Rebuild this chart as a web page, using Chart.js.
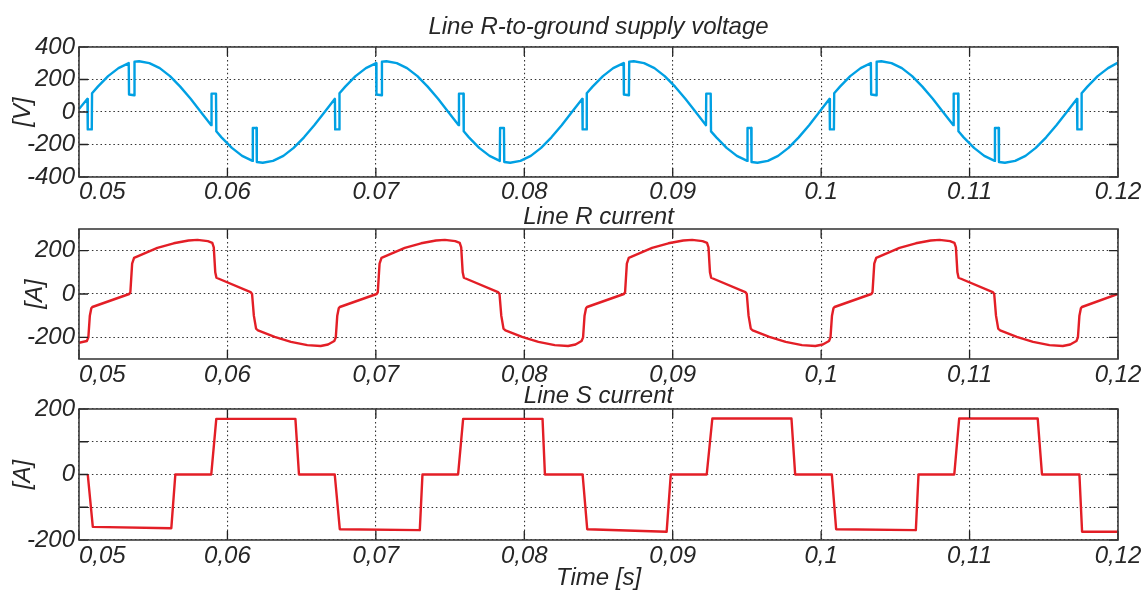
<!DOCTYPE html>
<html>
<head>
<meta charset="utf-8">
<script src="https://cdn.jsdelivr.net/npm/chart.js@4.4.1/dist/chart.umd.min.js"></script>
<style>
  body { margin: 0; background: #fff; width: 1142px; height: 590px; position: relative; overflow: hidden; }
  canvas { position: absolute; left: 0; }
</style>
</head>
<body>
<canvas id="voltChart" width="1142" height="205" style="top:0px"></canvas>
<canvas id="rChart" width="1142" height="190" style="top:200px"></canvas>
<canvas id="sChart" width="1142" height="210" style="top:380px"></canvas>
<script>
// axis ticks
const timeTicks = [0.05, 0.06, 0.07, 0.08, 0.09, 0.1, 0.11, 0.12];
const voltTicks = [-400, -200, 0, 200, 400];
const rTicks = [-200, 0, 200];
const sTicks = [-200, -100, 0, 100, 200];
const sTickLabels = ['-200', '', '0', '', '200'];

// Line R-to-ground supply voltage [V]
const voltTime = [
  0.05, 0.05057, 0.05059, 0.05086, 0.05088, 0.05127, 0.05196, 0.05266, 0.05335, 0.05337, 0.05372, 0.05374,
  0.05405, 0.05474, 0.05544, 0.05613, 0.05682, 0.05752, 0.05821, 0.05891, 0.05893, 0.05923, 0.05925, 0.0596,
  0.0603, 0.06099, 0.06169, 0.06171, 0.06196, 0.06198, 0.06238, 0.06307, 0.06377, 0.06446, 0.06516, 0.06585,
  0.06655, 0.06724, 0.06726, 0.06753, 0.06755, 0.06794, 0.06863, 0.06933, 0.07002, 0.07004, 0.07039, 0.07041,
  0.07071, 0.07141, 0.0721, 0.0728, 0.07349, 0.07419, 0.07488, 0.07558, 0.0756, 0.0759, 0.07592, 0.07627,
  0.07696, 0.07766, 0.07835, 0.07837, 0.07863, 0.07865, 0.07905, 0.07974, 0.08044, 0.08113, 0.08183, 0.08252,
  0.08321, 0.08391, 0.08393, 0.08419, 0.08421, 0.0846, 0.0853, 0.08599, 0.08669, 0.08671, 0.08705, 0.08707,
  0.08738, 0.08807, 0.08877, 0.08946, 0.09016, 0.09085, 0.09155, 0.09224, 0.09226, 0.09256, 0.09258, 0.09294,
  0.09363, 0.09432, 0.09502, 0.09504, 0.09529, 0.09531, 0.09571, 0.09641, 0.0971, 0.0978, 0.09849, 0.09919,
  0.09988, 0.10057, 0.10059, 0.10086, 0.10088, 0.10127, 0.10196, 0.10266, 0.10335, 0.10337, 0.10372, 0.10374,
  0.10405, 0.10474, 0.10544, 0.10613, 0.10682, 0.10752, 0.10821, 0.10891, 0.10893, 0.10923, 0.10925, 0.1096,
  0.1103, 0.11099, 0.11169, 0.11171, 0.11196, 0.11198, 0.11238, 0.11307, 0.11377, 0.11446, 0.11516, 0.11585,
  0.11655, 0.11724, 0.11726, 0.11753, 0.11755, 0.11794, 0.11863, 0.11933, 0.12
];
const voltValue = [
  18, 81, -107, -107, 115, 156, 221, 270, 301, 108, 103, 310,
  312, 301, 270, 221, 156, 81, 0, -81, 113, 113, -119, -156,
  -221, -270, -301, -98, -98, -308, -312, -301, -270, -221, -156, -81,
  0, 81, -107, -107, 115, 156, 221, 270, 301, 108, 103, 310,
  312, 301, 270, 221, 156, 81, 0, -81, 113, 113, -119, -156,
  -221, -270, -301, -98, -98, -308, -312, -301, -270, -221, -156, -81,
  0, 81, -107, -107, 115, 156, 221, 270, 301, 108, 103, 310,
  312, 301, 270, 221, 156, 81, 0, -81, 113, 113, -119, -156,
  -221, -270, -301, -98, -98, -308, -312, -301, -270, -221, -156, -81,
  0, 81, -107, -107, 115, 156, 221, 270, 301, 108, 103, 310,
  312, 301, 270, 221, 156, 81, 0, -81, 113, 113, -119, -156,
  -221, -270, -301, -98, -98, -308, -312, -301, -270, -221, -156, -81,
  0, 81, -107, -107, 115, 156, 221, 270, 304
];

// Line R current [A]
const rTime = [
  0.05, 0.05053, 0.05063, 0.05073, 0.05083, 0.0509, 0.05338, 0.05346, 0.05358, 0.05371, 0.05418, 0.05528,
  0.05638, 0.05738, 0.05798, 0.05868, 0.05898, 0.05908, 0.05918, 0.05926, 0.06156, 0.06166, 0.06178, 0.06193,
  0.06206, 0.06318, 0.06428, 0.06538, 0.06628, 0.06678,
  0.0672, 0.0673, 0.0674, 0.0675, 0.06757, 0.07005, 0.07013, 0.07025, 0.07038, 0.07085, 0.07195, 0.07305,
  0.07405, 0.07465, 0.07535, 0.07565, 0.07575, 0.07585, 0.07593, 0.07823, 0.07833, 0.07845, 0.0786, 0.07873,
  0.07985, 0.08095, 0.08205, 0.08295, 0.08345,
  0.08386, 0.08396, 0.08406, 0.08416, 0.08423, 0.08671, 0.08679, 0.08691, 0.08704, 0.08751, 0.08861, 0.08971,
  0.09071, 0.09131, 0.09201, 0.09231, 0.09241, 0.09251, 0.09259, 0.09489, 0.09499, 0.09511, 0.09526, 0.09539,
  0.09651, 0.09761, 0.09871, 0.09961, 0.10011,
  0.10053, 0.10063, 0.10073, 0.10083, 0.1009, 0.10338, 0.10346, 0.10358, 0.10371, 0.10418, 0.10528, 0.10638,
  0.10738, 0.10798, 0.10868, 0.10898, 0.10908, 0.10918, 0.10926, 0.11156, 0.11166, 0.11178, 0.11193, 0.11206,
  0.11318, 0.11428, 0.11538, 0.11628, 0.11678,
  0.1172, 0.1173, 0.1174, 0.1175, 0.11757, 0.12
];
const rValue = [
  -225, -217, -200, -100, -66, -60, 0, 8, 140, 167, 181, 213,
  234, 247, 250, 244, 236, 215, 100, 75, 9, 0, -100, -160,
  -168, -198, -221, -236, -240, -233,
  -217, -200, -100, -66, -60, 0, 8, 140, 167, 181, 213, 234,
  247, 250, 244, 236, 215, 100, 75, 9, 0, -100, -160, -168,
  -198, -221, -236, -240, -233,
  -217, -200, -100, -66, -60, 0, 8, 140, 167, 181, 213, 234,
  247, 250, 244, 236, 215, 100, 75, 9, 0, -100, -160, -168,
  -198, -221, -236, -240, -233,
  -217, -200, -100, -66, -60, 0, 8, 140, 167, 181, 213, 234,
  247, 250, 244, 236, 215, 100, 75, 9, 0, -100, -160, -168,
  -198, -221, -236, -240, -233,
  -217, -200, -100, -66, -60, 0
];

// Line S current [A]
const sTime = [
  0.05059, 0.05093, 0.05622, 0.05649, 0.05891, 0.05925, 0.06458, 0.06482,
  0.06723, 0.06757, 0.07296, 0.07314, 0.07554, 0.07588, 0.08123, 0.08139,
  0.08393, 0.08424, 0.08959, 0.08987, 0.09229, 0.09267, 0.098, 0.09825,
  0.10072, 0.10101, 0.10638, 0.10656, 0.10897, 0.1093, 0.11459, 0.11488,
  0.1174, 0.11758, 0.12
];
const sValue = [
  0, -160, -164, 0, 0, 170, 170, 0,
  0, -167, -170, 0, 0, 170, 170, 0,
  0, -167, -175, 0, 0, 171, 171, 0,
  0, -167, -170, 0, 0, 171, 171, 0,
  0, -175, -175
];

const textColor = '#262626';
const fontFamily = '"Liberation Sans", Arial, Helvetica, sans-serif';
const labelFont = { family: fontFamily, size: 24, style: 'italic', weight: 'normal', lineHeight: 1 };

// box around the plot area plus short inward tick marks
const framePlugin = {
  id: 'frame',
  afterDatasetsDraw(chart) {
    const { ctx, chartArea: a, scales } = chart;
    const len = 9;
    ctx.save();
    ctx.strokeStyle = '#222';
    ctx.lineWidth = 1.3;
    ctx.beginPath();
    scales.x.ticks.forEach(t => {
      const px = scales.x.getPixelForValue(t.value);
      ctx.moveTo(px, a.top); ctx.lineTo(px, a.top + len);
      ctx.moveTo(px, a.bottom); ctx.lineTo(px, a.bottom - len);
    });
    scales.y.ticks.forEach(t => {
      const py = scales.y.getPixelForValue(t.value);
      ctx.moveTo(a.left, py); ctx.lineTo(a.left + len, py);
      ctx.moveTo(a.right, py); ctx.lineTo(a.right - len, py);
    });
    ctx.stroke();
    ctx.strokeStyle = '#3c3c3c';
    ctx.lineWidth = 1.6;
    ctx.strokeRect(a.left, a.top, a.right - a.left, a.bottom - a.top);
    ctx.restore();
  }
};

function makeChart(id, o) {
  return new Chart(document.getElementById(id), {
    type: 'line',
    data: {
      datasets: [{
        data: o.time.map((t, i) => ({ x: t, y: o.values[i] })),
        borderColor: o.color,
        borderWidth: 2.4,
        pointRadius: 0,
        tension: 0,
        borderJoinStyle: 'round'
      }]
    },
    options: {
      responsive: false,
      animation: false,
      devicePixelRatio: 1,
      events: [],
      layout: { padding: { left: 0, right: 24, top: 0, bottom: 0 } },
      plugins: {
        legend: { display: false },
        tooltip: { enabled: false },
        title: {
          display: true, text: o.title, fullSize: false, color: textColor,
          font: labelFont, padding: o.titlePad
        }
      },
      scales: {
        x: {
          type: 'linear', min: 0.05, max: 0.12,
          afterBuildTicks: s => { s.ticks = timeTicks.map(v => ({ value: v })); },
          afterFit: s => { s.height = o.xHeight; s.paddingLeft = 0; s.paddingRight = 0; },
          grid: { color: '#333', lineWidth: 1.1, drawTicks: false },
          border: { display: false, dash: [1.5, 2.8] },
          ticks: {
            color: textColor, font: labelFont, padding: o.xPad,
            autoSkip: false, maxRotation: 0, minRotation: 0,
            callback: (v, i) => {
              let s = String(v);
              if (o.comma) s = s.replace('.', ',');
              return i === 0 ? '       ' + s : s;
            }
          },
          title: {
            display: !!o.xTitle, text: o.xTitle || '', color: textColor,
            font: labelFont, padding: { top: 0, bottom: 0 }
          }
        },
        y: {
          min: o.yMin, max: o.yMax,
          afterBuildTicks: s => { s.ticks = o.yTicks.map(v => ({ value: v })); },
          afterFit: s => { s.width = 79; s.paddingTop = 0; s.paddingBottom = 0; },
          grid: { color: '#333', lineWidth: 1.1, drawTicks: false },
          border: { display: false, dash: [1.5, 2.8] },
          ticks: {
            color: textColor, font: labelFont, padding: 4,
            callback: (v, i) => o.yLabels ? o.yLabels[i] : String(v)
          },
          title: {
            display: true, text: o.yTitle, color: textColor,
            font: labelFont, padding: { top: o.yTitlePad, bottom: 0 }
          }
        }
      }
    },
    plugins: [framePlugin]
  });
}

makeChart('voltChart', {
  time: voltTime, values: voltValue, color: '#00a0e3',
  title: 'Line R-to-ground supply voltage', titlePad: { top: 15, bottom: 8 },
  xHeight: 28, xPad: 3, comma: false,
  yMin: -400, yMax: 400, yTicks: voltTicks, yTitle: '[V]', yTitlePad: 11
});

makeChart('rChart', {
  time: rTime, values: rValue, color: '#e31e26',
  title: 'Line R current', titlePad: { top: 5, bottom: 0 },
  xHeight: 31, xPad: 4, comma: true,
  yMin: -300, yMax: 300, yTicks: rTicks, yTitle: '[A]', yTitlePad: 23
});

makeChart('sChart', {
  time: sTime, values: sValue, color: '#e31e26',
  title: 'Line S current', titlePad: { top: 4, bottom: 1 },
  xHeight: 50, xPad: 4, comma: true, xTitle: 'Time [s]',
  yMin: -200, yMax: 200, yTicks: sTicks, yLabels: sTickLabels, yTitle: '[A]', yTitlePad: 11
});
</script>
</body>
</html>
